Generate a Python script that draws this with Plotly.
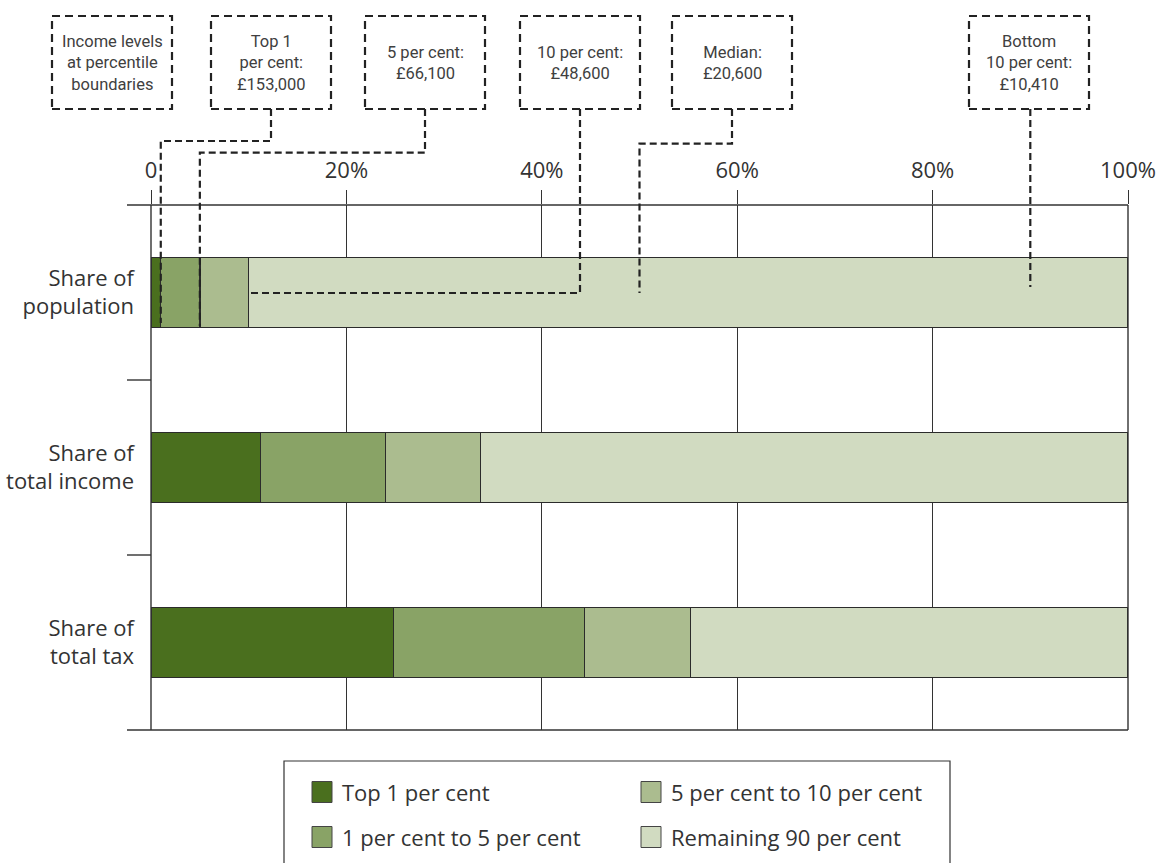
import plotly.graph_objects as go

# ---------------- data ----------------
categories = ["Share of<br>population", "Share of<br>total income", "Share of<br>total tax"]
series_names = ["Top 1 per cent", "1 per cent to 5 per cent",
                "5 per cent to 10 per cent", "Remaining 90 per cent"]
top_1 = [1.0, 11.2, 24.8]
pct_1_to_5 = [4.0, 12.8, 19.6]
pct_5_to_10 = [5.0, 9.7, 10.8]
remaining_90 = [90.0, 66.3, 44.8]
series_values = [top_1, pct_1_to_5, pct_5_to_10, remaining_90]
series_colors = ["#4a6f1e", "#89a366", "#abbc8f", "#d1dbc1"]

x_tickvals = [0, 20, 40, 60, 80, 100]
x_ticktext = ["0", "20%", "40%", "60%", "80%", "100%"]

header_label = "Income levels<br>at percentile<br>boundaries"
boundary_labels = ["Top 1<br>per cent:<br>£153,000", "5 per cent:<br>£66,100",
                   "10 per cent:<br>£48,600", "Median:<br>£20,600",
                   "Bottom<br>10 per cent:<br>£10,410"]
boundary_pct = [1, 5, 10, 50, 90]

# ---------------- layout geometry (pixels) ----------------
FIG_W, FIG_H = 1159, 863
L, R, T, B = 151, 31, 205, 133
PW = FIG_W - L - R
PH = FIG_H - T - B


def px_x(px):
    return (px - L) / PW


def px_y(py):
    return (T + PH - py) / PH


def pct_x(p):
    return p / 100.0


INK = "#333333"
DASH_COL = "#222222"
BOX_DASH = "8px,5px"
LINE_DASH = "7px,4px"
BOX_FONT = "Roboto, Liberation Sans Narrow, sans-serif"

fig = go.Figure()
for name, vals, col in zip(series_names, series_values, series_colors):
    fig.add_trace(go.Bar(
        y=categories, x=vals, orientation="h", name=name, width=0.4,
        marker=dict(color=col, line=dict(color="#2b2b2b", width=1.4)),
        showlegend=False, hoverinfo="x+name",
    ))

shapes = []
annotations = []

# frame lines: top and bottom full width, category boundary ticks
for py in [205, 730]:
    shapes.append(dict(type="line", xref="paper", yref="paper",
                       x0=px_x(127), x1=1, y0=px_y(py), y1=px_y(py),
                       line=dict(color=INK, width=1.4), layer="above"))
for py in [380, 555]:
    shapes.append(dict(type="line", xref="paper", yref="paper",
                       x0=px_x(127), x1=0, y0=px_y(py), y1=px_y(py),
                       line=dict(color=INK, width=1.4)))
# vertical edge lines at 0 and 100%
for xp in [0, 1]:
    shapes.append(dict(type="line", xref="paper", yref="paper",
                       x0=xp, x1=xp, y0=px_y(730), y1=px_y(205),
                       line=dict(color=INK, width=1.4), layer="above"))

# dashed annotation boxes
box_w = 120
box_top, box_bot = 16, 109
header_center = 112
box_centers = [271, 425, 580, 732, 1029]
all_centers = [header_center] + box_centers
all_labels = [header_label] + boundary_labels
for cx, lab in zip(all_centers, all_labels):
    shapes.append(dict(type="rect", xref="paper", yref="paper",
                       x0=px_x(cx - box_w / 2), x1=px_x(cx + box_w / 2),
                       y0=px_y(box_bot), y1=px_y(box_top),
                       line=dict(color=DASH_COL, width=2.2, dash=BOX_DASH)))
    annotations.append(dict(xref="paper", yref="paper", x=px_x(cx),
                            y=px_y((box_top + box_bot) / 2), text=lab,
                            showarrow=False, xanchor="center", yanchor="middle",
                            align="center",
                            font=dict(family=BOX_FONT, size=16.5, color="#404040")))

# connector paths (elbow y, end y) in pixels
connector_geom = [
    (141, 323),    # top 1
    (152.7, 326),  # 5
    (None, 293),   # 10 (horizontal into bar)
    (143.7, 293),  # median
    (None, 287),   # bottom 10 (straight down)
]
for cx, p, (ey, endy) in zip(box_centers, boundary_pct, connector_geom):
    xb = px_x(cx)
    xp = pct_x(p)
    if ey is not None:
        path = (f"M{xb},{px_y(box_bot)} L{xb},{px_y(ey)} "
                f"L{xp},{px_y(ey)} L{xp},{px_y(endy)}")
    elif abs(xb - xp) > 0.01:
        path = f"M{xb},{px_y(box_bot)} L{xb},{px_y(endy)} L{xp},{px_y(endy)}"
    else:
        path = f"M{xp},{px_y(box_bot)} L{xp},{px_y(endy)}"
    shapes.append(dict(type="path", xref="paper", yref="paper", path=path,
                       line=dict(color=DASH_COL, width=2.2, dash=LINE_DASH),
                       layer="above"))

# manual legend
shapes.append(dict(type="rect", xref="paper", yref="paper",
                   x0=px_x(284), x1=px_x(950), y0=px_y(900), y1=px_y(761),
                   line=dict(color=INK, width=1.2)))
legend_slots = [(0, 0), (1, 0), (0, 1), (1, 1)]  # (row, col)
col_px = [312, 641]
row_px = [792, 837]
sw_w, sw_h = 20, 21
for name, col, (r, c) in zip(series_names, series_colors, legend_slots):
    sx, sy = col_px[c], row_px[r]
    shapes.append(dict(type="rect", xref="paper", yref="paper",
                       x0=px_x(sx), x1=px_x(sx + sw_w),
                       y0=px_y(sy + sw_h / 2), y1=px_y(sy - sw_h / 2),
                       fillcolor=col, line=dict(color="#444444", width=1)))
    annotations.append(dict(xref="paper", yref="paper", x=px_x(sx + sw_w + 8),
                            y=px_y(sy), text=name, showarrow=False,
                            xanchor="left", yanchor="middle",
                            font=dict(family="Open Sans, sans-serif", size=22, color=INK)))

fig.update_layout(
    width=FIG_W, height=FIG_H,
    margin=dict(l=L, r=R, t=T, b=B, pad=0, autoexpand=False),
    barmode="stack",
    plot_bgcolor="white", paper_bgcolor="white",
    font=dict(family="Open Sans, sans-serif", size=22, color=INK),
    shapes=shapes, annotations=annotations,
    xaxis=dict(side="top", range=[0, 100], tickvals=x_tickvals, ticktext=x_ticktext,
               showgrid=True, gridcolor=INK, gridwidth=1, zeroline=False,
               showline=False, ticks="outside", ticklen=14, tickcolor=INK,
               tickwidth=1, tickfont=dict(size=22, color=INK), fixedrange=True,
               automargin=False, ticklabelstandoff=3),
    yaxis=dict(categoryorder="array", categoryarray=categories, range=[2.5, -0.5],
               showgrid=False, zeroline=False, showline=False, ticks="",
               ticklabelstandoff=16, tickfont=dict(size=22, color=INK), fixedrange=True,
               automargin=False),
    showlegend=False,
)

fig.write_html("out.html", config={"displayModeBar": False},
               post_script="document.body.style.margin='0';")
